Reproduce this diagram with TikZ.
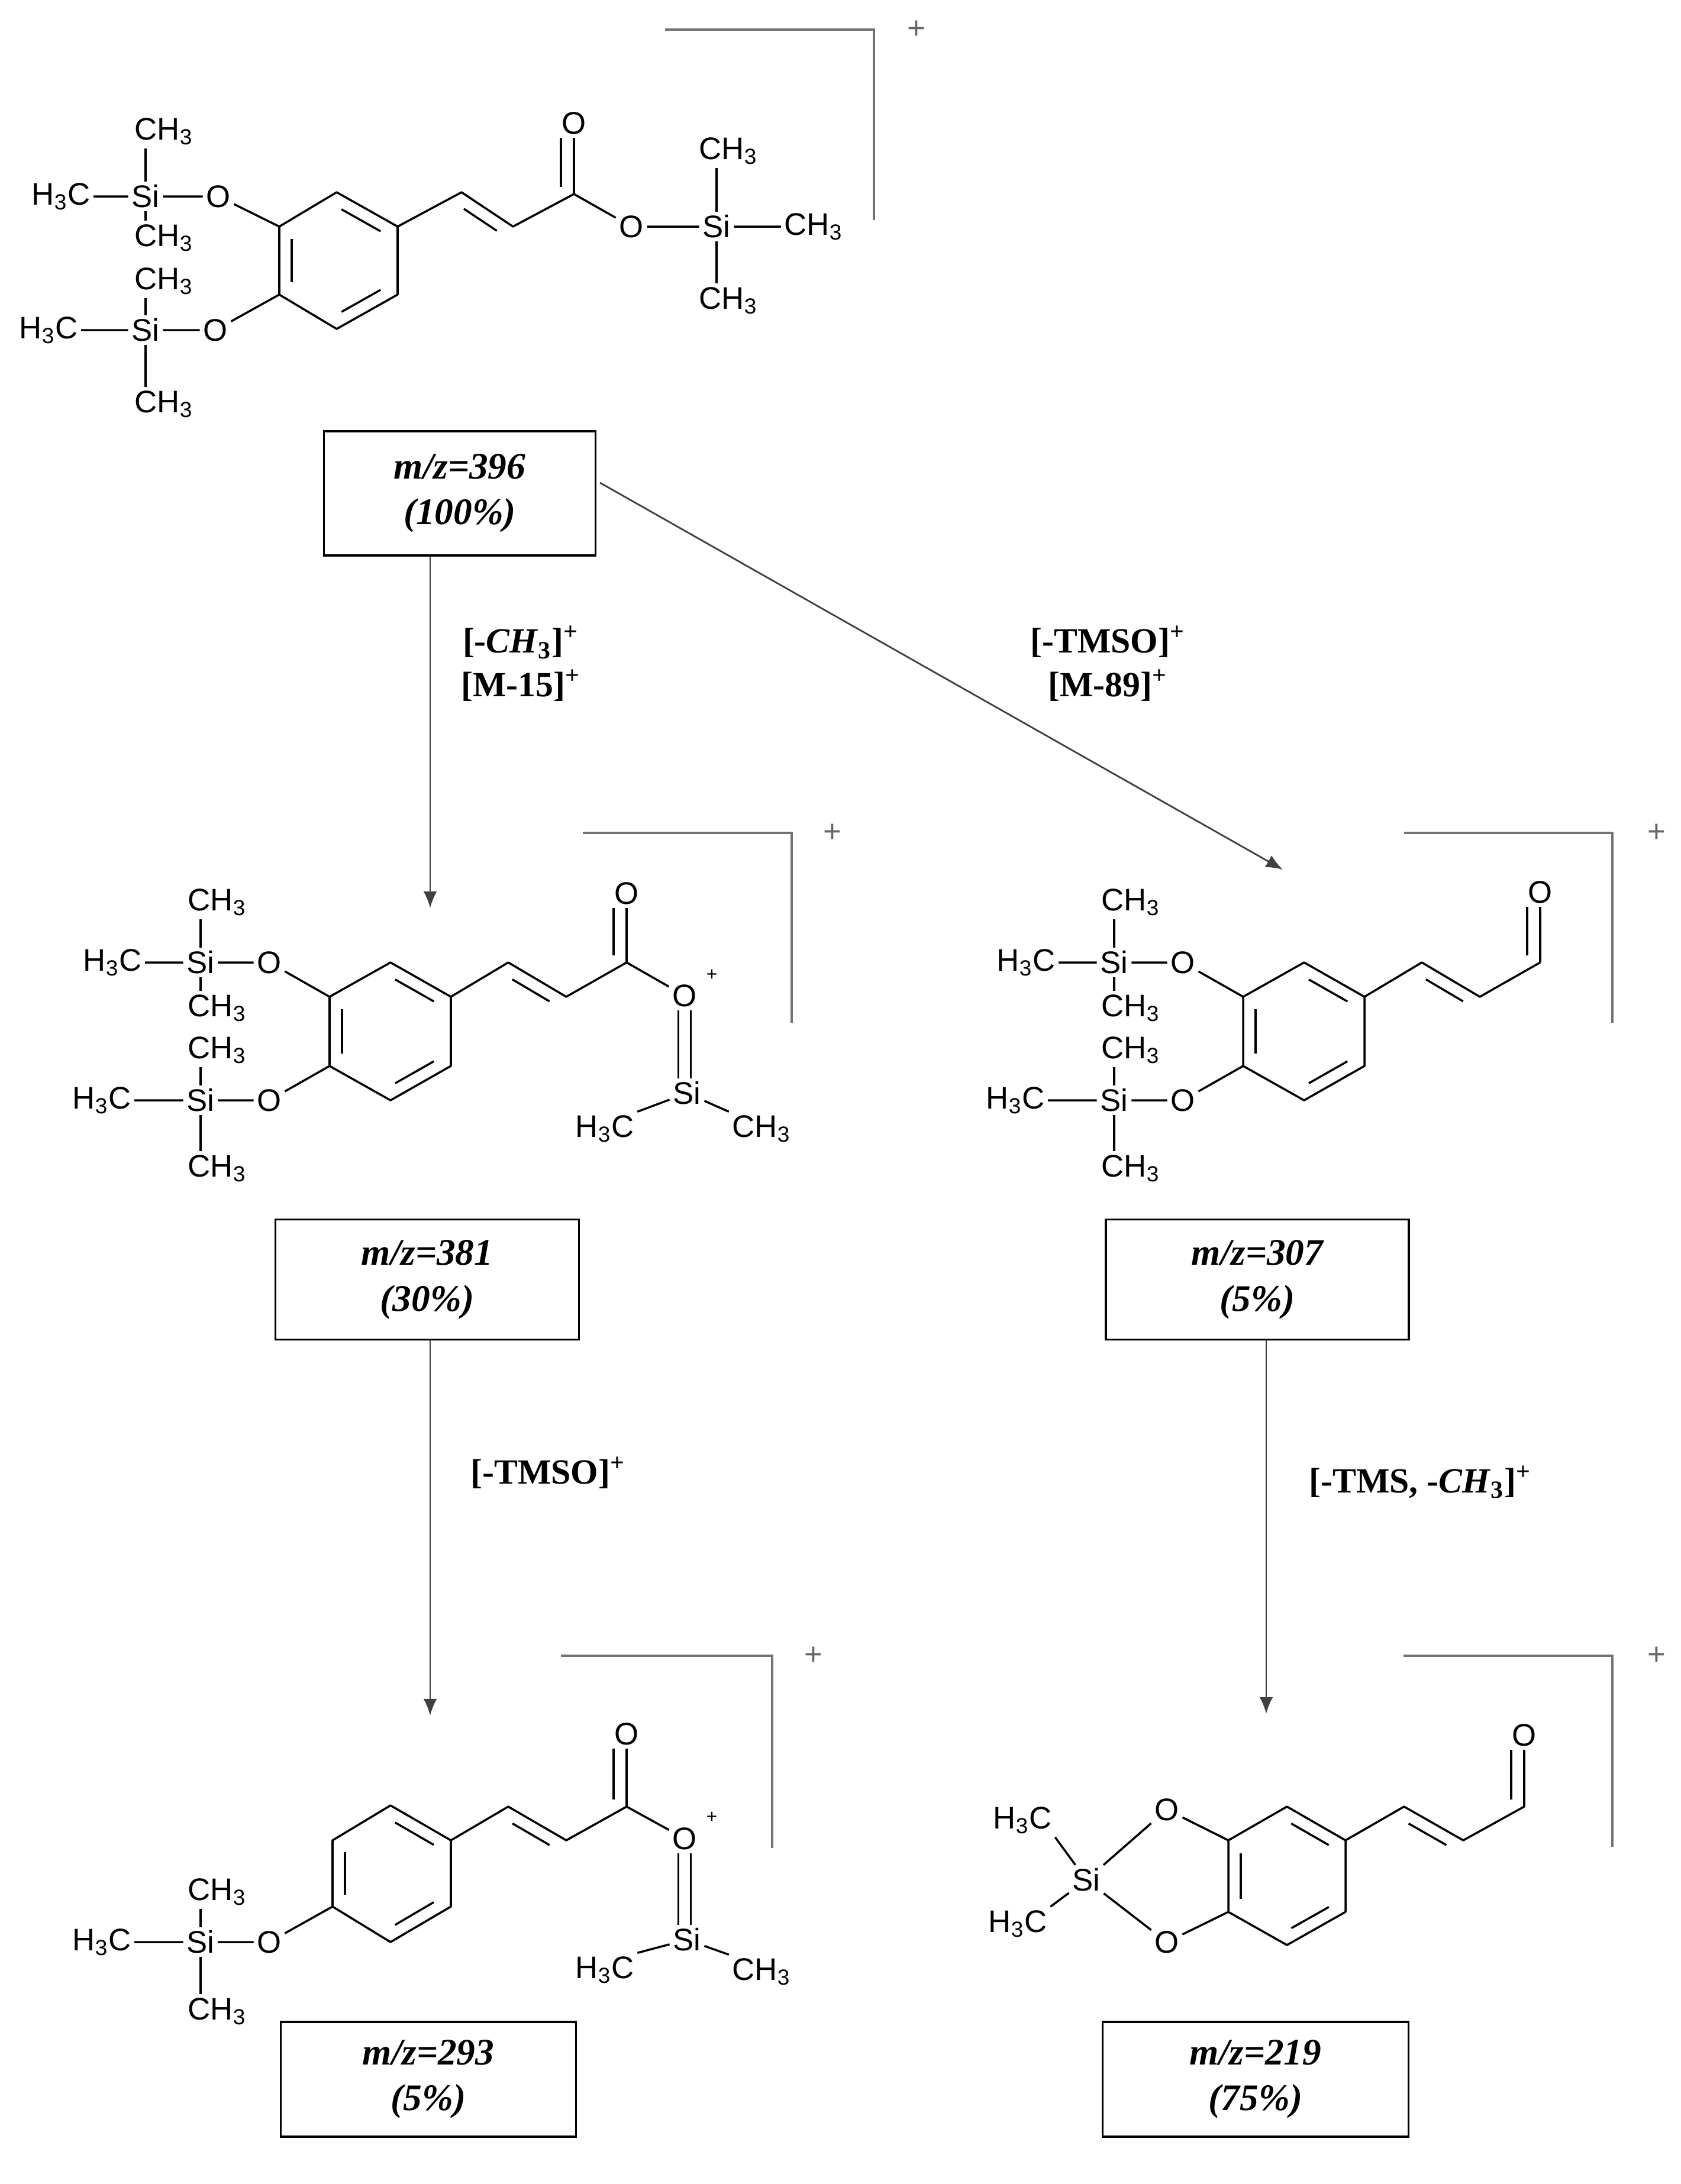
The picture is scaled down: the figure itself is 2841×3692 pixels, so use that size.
\documentclass[tikz,border=0pt]{standalone}
\usepackage{fontspec}
\setmainfont{Liberation Serif}
\setsansfont{Liberation Sans}
\usepackage{tikz}
\usetikzlibrary{calc, arrows.meta}
\tikzset{atom/.style={font=\fontsize{15}{15}\sffamily, inner sep=1.5pt},
	bond/.style={line width=1pt, line join=round},
	klammer/.style={line width=0.9pt, draw=black!55},
	ladung/.style={font=\fontsize{15}{15}\sffamily, text=black!60, inner sep=0},
	kasten/.style={draw, line width=1pt, align=center, font=\fontsize{18}{22}\bfseries\itshape},
	pfeil/.style={line width=0.8pt, draw=black!75, -{Latex[length=8pt, width=6.5pt]}},
	marke/.style={font=\fontsize{17}{21}\bfseries, align=center} }
% second line of a double bond
\newcommand{\dbl}[5][.18]{\draw[bond] ($(#2)!#1!(#3)!6pt!#4:(#3)$) -- ($(#3)!#1!(#2)!6pt!#5:(#2)$);}
% ring from the six named corners
\newcommand{\benzol}[1]{%
	\draw[bond] (#1t) -- (#1ur) -- (#1lr) -- (#1b) -- (#1ll) -- (#1ul) -- cycle;
	\dbl{#1ul}{#1ll}{90}{-90}
	\dbl{#1t}{#1ur}{-90}{90}
	\dbl{#1lr}{#1b}{-90}{90}}
\newcommand{\methyl}{CH\textsubscript{3}}
\newcommand{\hmethyl}{H\textsubscript{3}C}
\begin{document}
\begin{tikzpicture}[x=0.01cm, y=-0.01cm]
  \useasboundingbox (0,0) rectangle (2841,3692);

  % --- m/z 396
  \coordinate (At) at (569,325); \coordinate (Aul) at (472,383); \coordinate (Aur) at (672,383);
  \coordinate (Alr) at (672,498); \coordinate (All) at (472,498); \coordinate (Ab) at (569,556);
  \coordinate (Ac1) at (780,325); \coordinate (Ac2) at (867,383); \coordinate (Ac3) at (970,328);
  \node[atom] (As1) at (246,332) {Si};
  \node[atom] (Ah1) at (103,332) {\hmethyl};
  \node[atom] (Am1t) at (277,222) {\methyl};
  \node[atom] (Am1b) at (277,402) {\methyl};
  \node[atom] (Ao1) at (369,332) {O};
  \node[atom] (As2) at (246,558) {Si};
  \node[atom] (Ah2) at (82,558) {\hmethyl};
  \node[atom] (Am2t) at (277,475) {\methyl};
  \node[atom] (Am2b) at (277,683) {\methyl};
  \node[atom] (Ao2) at (364,558) {O};
  \node[atom] (Ao) at (970,208) {O};
  \node[atom] (Aoe) at (1067,383) {O};
  \node[atom] (As) at (1211,383) {Si};
  \node[atom] (Amr) at (1375,383) {\methyl};
  \node[atom] (Amt) at (1231,255) {\methyl};
  \node[atom] (Amb) at (1231,508) {\methyl};
  \benzol{A}
  \draw[bond] (Ah1) -- (As1) -- (Ao1) -- (Aul);
  \draw[bond] (Ah2) -- (As2) -- (Ao2) -- (All);
  \draw[bond] (As1.north) -- (As1.north |- Am1t.south);
  \draw[bond] (As1.south) -- (As1.south |- Am1b.north);
  \draw[bond] (As2.north) -- (As2.north |- Am2t.south);
  \draw[bond] (As2.south) -- (As2.south |- Am2b.north);
  \draw[bond] (Aur) -- (Ac1) -- (Ac2) -- (Ac3) -- (Aoe) -- (As) -- (Amr);
  \dbl{Ac1}{Ac2}{-90}{90}
  \draw[bond] (Ac3) -- (Ao.south);
  \draw[bond] ($(Ac3)+(-22,-12)$) -- ($(Ao.south)+(-22,0)$);
  \draw[bond] (As.north) -- (As.north |- Amt.south);
  \draw[bond] (As.south) -- (As.south |- Amb.north);
  \coordinate (Ak1) at (1124,50); \coordinate (Ak2) at (1477,50); \coordinate (Ak3) at (1477,372);
  \draw[klammer] (Ak1) -- (Ak2) -- (Ak3);
  \node[ladung] (Apl) at (1549,50) {+};

  % --- m/z 381
  \coordinate (Bt) at (660,1627); \coordinate (Bul) at (557,1685); \coordinate (Bur) at (762,1685);
  \coordinate (Blr) at (762,1802); \coordinate (Bll) at (557,1802); \coordinate (Bb) at (660,1860);
  \coordinate (Bc1) at (859,1627); \coordinate (Bc2) at (957,1685); \coordinate (Bc3) at (1059,1627);
  \node[atom] (Bs1) at (339,1627) {Si};
  \node[atom] (Bh1) at (190,1627) {\hmethyl};
  \node[atom] (Bm1t) at (367,1525) {\methyl};
  \node[atom] (Bm1b) at (367,1704) {\methyl};
  \node[atom] (Bo1) at (455,1627) {O};
  \node[atom] (Bs2) at (339,1860) {Si};
  \node[atom] (Bh2) at (172,1860) {\hmethyl};
  \node[atom] (Bm2t) at (367,1775) {\methyl};
  \node[atom] (Bm2b) at (367,1975) {\methyl};
  \node[atom] (Bo2) at (455,1860) {O};
  \node[atom] (Bo) at (1059,1510) {O};
  \node[atom] (Bop) at (1157,1683) {O};
  \node[atom, font=\fontsize{9}{9}\sffamily] (Bopl) at (1203,1648) {+};
  \node[atom] (Bsi) at (1161,1848) {Si};
  \node[atom] (Bh) at (1022,1908) {\hmethyl};
  \node[atom] (Bm) at (1287,1908) {\methyl};
  \benzol{B}
  \draw[bond] (Bh1) -- (Bs1) -- (Bo1) -- (Bul);
  \draw[bond] (Bh2) -- (Bs2) -- (Bo2) -- (Bll);
  \draw[bond] (Bs1.north) -- (Bs1.north |- Bm1t.south);
  \draw[bond] (Bs1.south) -- (Bs1.south |- Bm1b.north);
  \draw[bond] (Bs2.north) -- (Bs2.north |- Bm2t.south);
  \draw[bond] (Bs2.south) -- (Bs2.south |- Bm2b.north);
  \draw[bond] (Bur) -- (Bc1) -- (Bc2) -- (Bc3) -- (Bop);
  \dbl{Bc1}{Bc2}{-90}{90}
  \draw[bond] (Bc3) -- (Bo.south);
  \draw[bond] ($(Bc3)+(-22,-12)$) -- ($(Bo.south)+(-22,0)$);
  \draw[bond] ([xshift=-3pt]Bop.south) -- ([xshift=-3pt]Bop.south |- Bsi.north);
  \draw[bond] ([xshift=3pt]Bop.south) -- ([xshift=3pt]Bop.south |- Bsi.north);
  \draw[bond] (Bsi) -- (Bh.north east);
  \draw[bond] (Bsi) -- (Bm.north west);
  \coordinate (Bk1) at (985,1408); \coordinate (Bk2) at (1338,1408); \coordinate (Bk3) at (1338,1729);
  \draw[klammer] (Bk1) -- (Bk2) -- (Bk3);
  \node[ladung] (Bpl) at (1407,1408) {+};

  % --- m/z 307
  \coordinate (Ct) at (2204,1627); \coordinate (Cul) at (2101,1685); \coordinate (Cur) at (2306,1685);
  \coordinate (Clr) at (2306,1802); \coordinate (Cll) at (2101,1802); \coordinate (Cb) at (2204,1860);
  \coordinate (Cc1) at (2403,1627); \coordinate (Cc2) at (2501,1685); \coordinate (Cc3) at (2603,1627);
  \node[atom] (Cs1) at (1883,1627) {Si};
  \node[atom] (Ch1) at (1734,1627) {\hmethyl};
  \node[atom] (Cm1t) at (1911,1525) {\methyl};
  \node[atom] (Cm1b) at (1911,1704) {\methyl};
  \node[atom] (Co1) at (1999,1627) {O};
  \node[atom] (Cs2) at (1883,1860) {Si};
  \node[atom] (Ch2) at (1716,1860) {\hmethyl};
  \node[atom] (Cm2t) at (1911,1775) {\methyl};
  \node[atom] (Cm2b) at (1911,1975) {\methyl};
  \node[atom] (Co2) at (1999,1860) {O};
  \node[atom] (Co) at (2603,1508) {O};
  \benzol{C}
  \draw[bond] (Ch1) -- (Cs1) -- (Co1) -- (Cul);
  \draw[bond] (Ch2) -- (Cs2) -- (Co2) -- (Cll);
  \draw[bond] (Cs1.north) -- (Cs1.north |- Cm1t.south);
  \draw[bond] (Cs1.south) -- (Cs1.south |- Cm1b.north);
  \draw[bond] (Cs2.north) -- (Cs2.north |- Cm2t.south);
  \draw[bond] (Cs2.south) -- (Cs2.south |- Cm2b.north);
  \draw[bond] (Cur) -- (Cc1) -- (Cc2) -- (Cc3);
  \dbl{Cc1}{Cc2}{-90}{90}
  \draw[bond] (Cc3) -- (Co.south);
  \draw[bond] ($(Cc3)+(-22,-12)$) -- ($(Co.south)+(-22,0)$);
  \coordinate (Ck1) at (2373,1408); \coordinate (Ck2) at (2725,1408); \coordinate (Ck3) at (2725,1729);
  \draw[klammer] (Ck1) -- (Ck2) -- (Ck3);
  \node[ladung] (Cpl) at (2800,1408) {+};

  % --- m/z 293
  \coordinate (Dt) at (660,3052); \coordinate (Dul) at (562,3111); \coordinate (Dur) at (762,3111);
  \coordinate (Dlr) at (762,3223); \coordinate (Dll) at (562,3223); \coordinate (Db) at (660,3283);
  \coordinate (Dc1) at (859,3054); \coordinate (Dc2) at (957,3111); \coordinate (Dc3) at (1059,3054);
  \node[atom] (Ds1) at (339,3283) {Si};
  \node[atom] (Dh1) at (172,3283) {\hmethyl};
  \node[atom] (Dm1t) at (367,3198) {\methyl};
  \node[atom] (Dm1b) at (367,3400) {\methyl};
  \node[atom] (Do1) at (455,3283) {O};
  \node[atom] (Do) at (1059,2931) {O};
  \node[atom] (Dop) at (1157,3108) {O};
  \node[atom, font=\fontsize{9}{9}\sffamily] (Dopl) at (1203,3072) {+};
  \node[atom] (Dsi) at (1161,3279) {Si};
  \node[atom] (Dh) at (1022,3330) {\hmethyl};
  \node[atom] (Dm) at (1287,3333) {\methyl};
  \benzol{D}
  \draw[bond] (Dh1) -- (Ds1) -- (Do1) -- (Dll);
  \draw[bond] (Ds1.north) -- (Ds1.north |- Dm1t.south);
  \draw[bond] (Ds1.south) -- (Ds1.south |- Dm1b.north);
  \draw[bond] (Dur) -- (Dc1) -- (Dc2) -- (Dc3) -- (Dop);
  \dbl{Dc1}{Dc2}{-90}{90}
  \draw[bond] (Dc3) -- (Do.south);
  \draw[bond] ($(Dc3)+(-22,-12)$) -- ($(Do.south)+(-22,0)$);
  \draw[bond] ([xshift=-3pt]Dop.south) -- ([xshift=-3pt]Dop.south |- Dsi.north);
  \draw[bond] ([xshift=3pt]Dop.south) -- ([xshift=3pt]Dop.south |- Dsi.north);
  \draw[bond] (Dsi) -- (Dh.north east);
  \draw[bond] (Dsi) -- (Dm.north west);
  \coordinate (Dk1) at (948,2799); \coordinate (Dk2) at (1305,2799); \coordinate (Dk3) at (1305,3124);
  \draw[klammer] (Dk1) -- (Dk2) -- (Dk3);
  \node[ladung] (Dpl) at (1375,2799) {+};

  % --- m/z 219
  \coordinate (Et) at (2175,3054); \coordinate (Eul) at (2076,3111); \coordinate (Eur) at (2274,3111);
  \coordinate (Elr) at (2274,3232); \coordinate (Ell) at (2076,3232); \coordinate (Eb) at (2175,3288);
  \coordinate (Ec1) at (2373,3054); \coordinate (Ec2) at (2473,3111); \coordinate (Ec3) at (2576,3054);
  \node[atom] (Eo1) at (1972,3059) {O};
  \node[atom] (Eo2) at (1972,3283) {O};
  \node[atom] (Esi) at (1836,3178) {Si};
  \node[atom] (Eh1) at (1728,3077) {\hmethyl};
  \node[atom] (Eh2) at (1720,3252) {\hmethyl};
  \node[atom] (Eo) at (2576,2933) {O};
  \benzol{E}
  \draw[bond] (Eul) -- (Eo1) -- (Esi) -- (Eo2) -- (Ell);
  \draw[bond] (Eh1.south east) -- (Esi);
  \draw[bond] (Eh2.north east) -- (Esi);
  \draw[bond] (Eur) -- (Ec1) -- (Ec2) -- (Ec3);
  \dbl{Ec1}{Ec2}{-90}{90}
  \draw[bond] (Ec3) -- (Eo.south);
  \draw[bond] ($(Ec3)+(-22,-12)$) -- ($(Eo.south)+(-22,0)$);
  \coordinate (Ek1) at (2372,2799); \coordinate (Ek2) at (2725,2799); \coordinate (Ek3) at (2725,3122);
  \draw[klammer] (Ek1) -- (Ek2) -- (Ek3);
  \node[ladung] (Epl) at (2800,2799) {+};

  % --- boxes
  \node[kasten, minimum width=4.59cm, minimum height=2.10cm] (k396) at (777,834) {m/z=396\\(100\%)};
  \node[kasten, minimum width=5.13cm, minimum height=2.03cm] (k381) at (722,2163) {m/z=381\\(30\%)};
  \node[kasten, minimum width=5.12cm, minimum height=2.03cm] (k307) at (2125,2163) {m/z=307\\(5\%)};
  \node[kasten, minimum width=4.99cm, minimum height=1.94cm] (k293) at (724,3515) {m/z=293\\(5\%)};
  \node[kasten, minimum width=5.17cm, minimum height=1.94cm] (k219) at (2122,3515) {m/z=219\\(75\%)};

  % --- arrows
  \coordinate (p1) at (727,1535);
  \coordinate (p2s) at (1014,816);
  \coordinate (p2) at (2168,1470);
  \coordinate (p3) at (727,2900);
  \coordinate (p4) at (2140,2897);
  \draw[pfeil] (k396.south -| p1) -- (p1);
  \draw[pfeil] (p2s) -- (p2);
  \draw[pfeil] (k381.south -| p3) -- (p3);
  \draw[pfeil] (k307.south -| p4) -- (p4);
  \node[marke] (l1) at (880,1122) {[-\textit{CH}\textsubscript{3}]\textsuperscript{+}\\{}[M-15]\textsuperscript{+}};
  \node[marke] (l2) at (1872,1122) {[-TMSO]\textsuperscript{+}\\{}[M-89]\textsuperscript{+}};
  \node[marke] (l3) at (926,2490) {[-TMSO]\textsuperscript{+}};
  \node[marke] (l4) at (2400,2505) {[-TMS, -\textit{CH}\textsubscript{3}]\textsuperscript{+}};
\end{tikzpicture}
\end{document}
